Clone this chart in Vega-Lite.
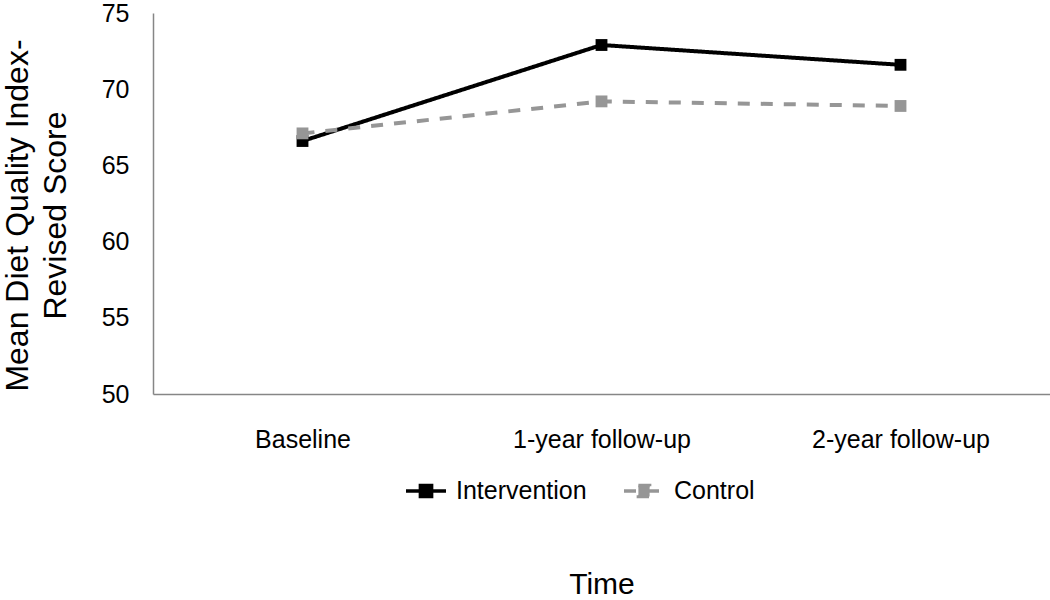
{
  "$schema": "https://vega.github.io/schema/vega-lite/v6.json",
  "width": 897,
  "height": 381,
  "autosize": {"type": "none"},
  "padding": {"left": 153, "top": 13, "right": 0, "bottom": 206},
  "background": "white",
  "config": {
    "font": "Liberation Sans",
    "view": {"stroke": null},
    "axis": {"grid": false, "domainColor": "#868686", "domainWidth": 1.5, "ticks": false, "labelColor": "#000000", "titleColor": "#000000", "labelFont": "Liberation Sans", "titleFont": "Liberation Sans", "titleFontWeight": "normal"}
  },
  "data": {
    "values": [
      {"time": "Baseline", "group": "Intervention", "score": 66.6},
      {"time": "1-year follow-up", "group": "Intervention", "score": 72.9},
      {"time": "2-year follow-up", "group": "Intervention", "score": 71.6},
      {"time": "Baseline", "group": "Control", "score": 67.1},
      {"time": "1-year follow-up", "group": "Control", "score": 69.2},
      {"time": "2-year follow-up", "group": "Control", "score": 68.9}
    ]
  },
  "encoding": {
    "x": {
      "field": "time", "type": "ordinal",
      "sort": ["Baseline", "1-year follow-up", "2-year follow-up"],
      "scale": {"type": "point", "padding": 0.5},
      "axis": {"title": "Time", "labelAngle": 0, "labelFontSize": 25, "labelPadding": 33, "titleFontSize": 30, "titlePadding": 117}
    },
    "y": {
      "field": "score", "type": "quantitative",
      "scale": {"domain": [50, 75], "nice": false, "zero": false},
      "axis": {"title": ["Mean Diet Quality Index-", "Revised Score"], "values": [50, 55, 60, 65, 70, 75], "labelFontSize": 25, "labelPadding": 24, "titleFontSize": 32, "titleLineHeight": 38, "titleX": -151, "titleY": 202, "titleAngle": -90, "titleAlign": "center", "titleBaseline": "top"}
    },
    "color": {
      "field": "group", "type": "nominal",
      "sort": ["Intervention", "Control"],
      "scale": {"domain": ["Intervention", "Control"], "range": ["#000000", "#969696"]},
      "legend": {
        "title": null, "orient": "none", "legendX": 251, "legendY": 456, "direction": "horizontal",
        "symbolType": "M-1,0H1M-0.28,-0.28H0.28V0.28H-0.28Z", "symbolSize": 1600, "symbolStrokeWidth": 3.5,
        "labelFontSize": 25, "labelColor": "#000000", "columnPadding": 30, "symbolOffset": 0, "labelOffset": 8,
        "encode": {"symbols": {"update": {"fill": {"scale": "color", "field": "value"}, "strokeDash": {"value": [1, 0]}}}}
      }
    },
    "strokeDash": {
      "field": "group", "type": "nominal",
      "scale": {"domain": ["Intervention", "Control"], "range": [[1, 0], [12, 11]]},
      "legend": null
    }
  },
  "layer": [
    {"mark": {"type": "line", "strokeWidth": 4}},
    {"mark": {"type": "point", "shape": "square", "filled": true, "size": 140, "opacity": 1}}
  ]
}
